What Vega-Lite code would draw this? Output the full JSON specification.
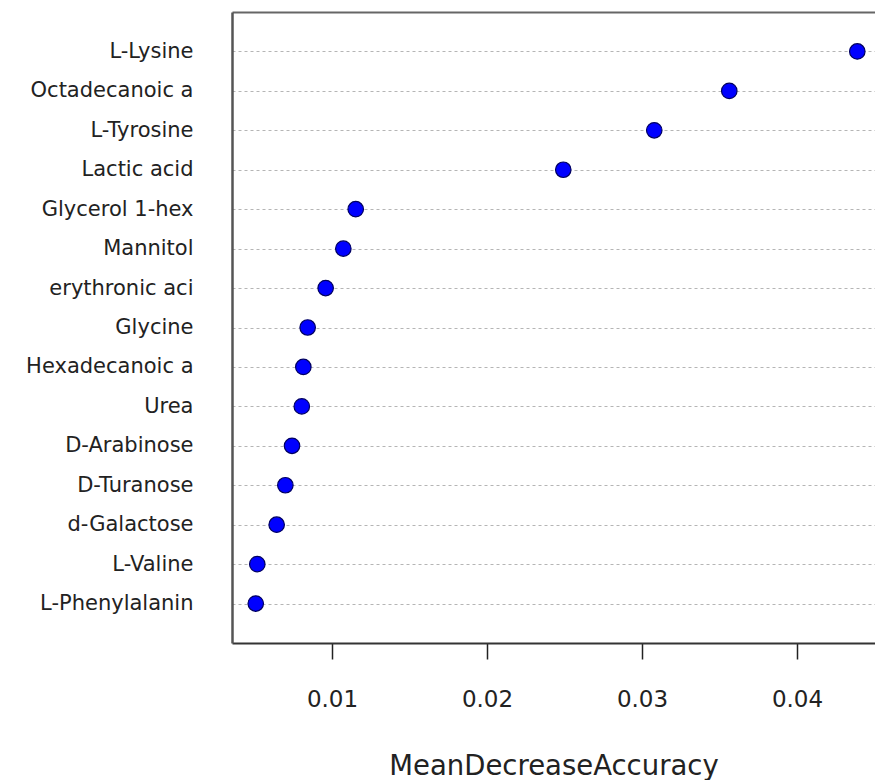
{
  "$schema": "https://vega.github.io/schema/vega-lite/v6.json",
  "width": 643,
  "height": 631,
  "autosize": "none",
  "padding": {"left": 232, "top": 12, "right": 0, "bottom": 137},
  "background": "white",
  "config": {"view": {"stroke": null}},
  "data": {
    "values": [
      {"name": "L-Lysine", "value": 0.04389},
      {"name": "Octadecanoic a", "value": 0.03563},
      {"name": "L-Tyrosine", "value": 0.03079},
      {"name": "Lactic acid", "value": 0.02492},
      {"name": "Glycerol 1-hex", "value": 0.01153},
      {"name": "Mannitol", "value": 0.01073},
      {"name": "erythronic aci", "value": 0.00959},
      {"name": "Glycine", "value": 0.00843},
      {"name": "Hexadecanoic a", "value": 0.00815},
      {"name": "Urea", "value": 0.00805},
      {"name": "D-Arabinose", "value": 0.00742},
      {"name": "D-Turanose", "value": 0.00699},
      {"name": "d-Galactose", "value": 0.00643},
      {"name": "L-Valine", "value": 0.00518},
      {"name": "L-Phenylalanin", "value": 0.00508}
    ]
  },
  "layer": [
    {
      "mark": {"type": "point", "filled": true, "size": 240, "fill": "#0000ff", "stroke": "#000060", "strokeWidth": 1.2, "opacity": 1},
      "encoding": {
        "x": {
          "field": "value",
          "type": "quantitative",
          "scale": {"domain": [0.003548, 0.045032], "nice": false, "zero": false},
          "axis": {
            "orient": "bottom",
            "values": [0.01, 0.02, 0.03, 0.04],
            "format": ".2f",
            "grid": false,
            "domainColor": "#333333",
            "domainWidth": 2,
            "tickColor": "#222222",
            "tickWidth": 1.5,
            "tickSize": 16,
            "labelFont": "DejaVu Sans",
            "labelFontSize": 23,
            "labelColor": "#222222",
            "labelPadding": 29,
            "title": "MeanDecreaseAccuracy",
            "titleFont": "DejaVu Sans",
            "titleFontSize": 27.5,
            "titleFontWeight": "normal",
            "titleColor": "#222222",
            "titlePadding": 41
          }
        },
        "y": {
          "field": "name",
          "type": "nominal",
          "sort": null,
          "scale": {"type": "point", "padding": 1},
          "axis": {
            "title": null,
            "ticks": false,
            "domain": true,
            "domainColor": "#555555",
            "domainWidth": 2.5,
            "grid": true,
            "gridDash": [3, 3],
            "gridColor": "#b5b5b5",
            "gridWidth": 1,
            "labelFont": "DejaVu Sans",
            "labelFontSize": 21,
            "labelColor": "#222222",
            "labelPadding": 39
          }
        }
      }
    },
    {
      "mark": {"type": "point", "opacity": 0},
      "encoding": {
        "x": {
          "field": "value",
          "type": "quantitative",
          "axis": {"orient": "top", "labels": false, "ticks": false, "grid": false, "title": null, "domainColor": "#666666", "domainWidth": 2}
        }
      }
    }
  ]
}
